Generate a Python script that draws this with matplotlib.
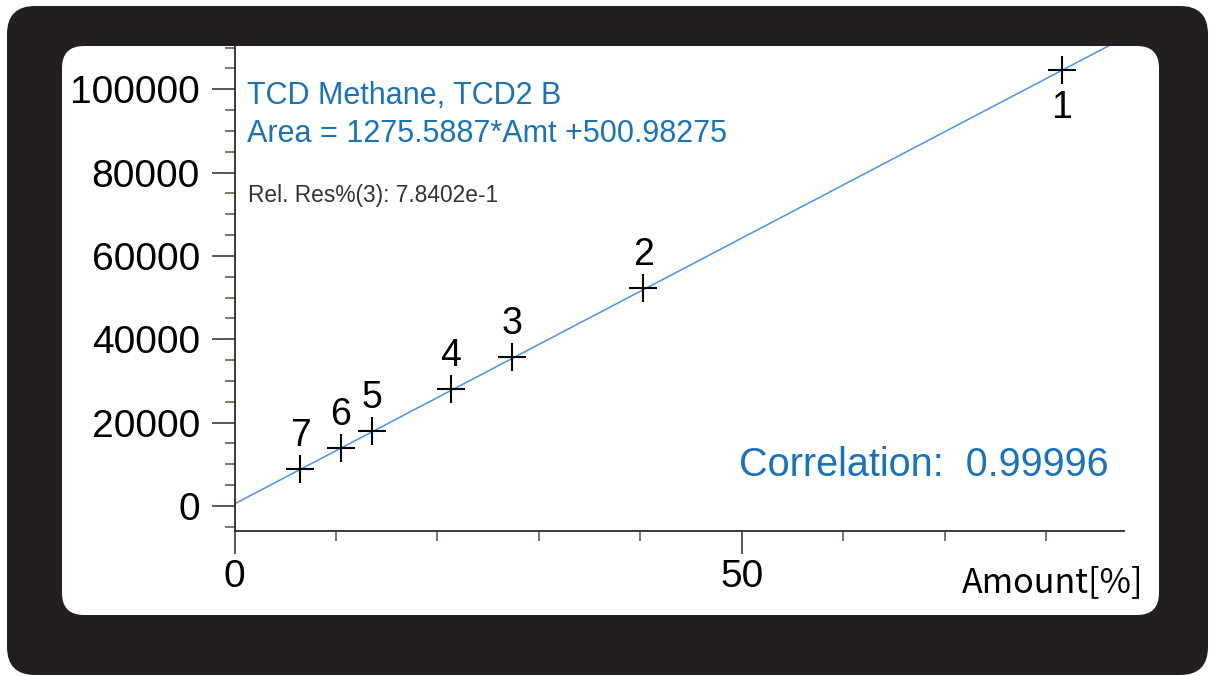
import numpy as np
import matplotlib
matplotlib.use("Agg")
import matplotlib.pyplot as plt
from matplotlib.patches import FancyBboxPatch
from matplotlib.ticker import FixedLocator

plt.rcParams['font.family'] = ['Liberation Sans', 'DejaVu Sans']

# calibration points
amount = [81.57, 40.30, 27.33, 21.31, 13.53, 10.47, 6.46]
area = [104630, 52240, 35690, 28010, 18070, 13850, 8810]
point_ids = ['1', '2', '3', '4', '5', '6', '7']

# fit given on the chart
slope = 1275.5887
intercept = 500.98275

y_ticks = [0, 20000, 40000, 60000, 80000, 100000]
y_labels = ['0', '20000', '40000', '60000', '80000', '100000']
x_ticks = [0, 50]
x_labels = ['0', '50']
x_minor = [10, 20, 30, 40, 60, 70, 80]

W, H = 1210, 676
fig = plt.figure(figsize=(W / 100, H / 100), dpi=100)
fig.patch.set_facecolor('white')

# frame: dark rounded border with white panel, in pixel coordinates
bg = fig.add_axes([0, 0, 1, 1], zorder=0)
bg.set_xlim(0, W)
bg.set_ylim(H, 0)
bg.axis('off')
bg.add_patch(FancyBboxPatch((7 + 28, 6 + 28), 1201 - 56, 669 - 56,
                            boxstyle='round,pad=28', fc='#231f20', ec='none'))
bg.add_patch(FancyBboxPatch((62 + 22, 46 + 22), 1097 - 44, 569 - 44,
                            boxstyle='round,pad=22', fc='white', ec='none'))

# main axes
left, right, top, bottom = 234.5, 1124, 46, 530.5
ax = fig.add_axes([left / W, 1 - bottom / H, (right - left) / W, (bottom - top) / H], zorder=1)
ax.patch.set_alpha(0)
ax.set_xlim(0, 87.69)
ax.set_ylim(-5880, 110390)

xs = np.array([0, 87.69])
ax.plot(xs, slope * xs + intercept, color='#4a94e6', lw=1.1, zorder=2)
ax.plot(amount, area, ls='none', marker='+', ms=20, mew=1.5, color='black', zorder=3)

for i, (x, y, t) in enumerate(zip(amount, area, point_ids)):
    if i == 0:
        ax.annotate(t, (x, y), xytext=(0, -34.6), textcoords='offset points',
                    ha='center', va='baseline', fontsize=27, color='black')
    else:
        ax.annotate(t, (x, y), xytext=(0, 16.5), textcoords='offset points',
                    ha='center', va='baseline', fontsize=27, color='black')

for s in ['top', 'right']:
    ax.spines[s].set_visible(False)
for s in ['left', 'bottom']:
    ax.spines[s].set_color('#2b2b22')
    ax.spines[s].set_linewidth(1.3)

ax.yaxis.set_major_locator(FixedLocator(y_ticks))
ax.set_yticklabels(y_labels)
ax.yaxis.set_minor_locator(FixedLocator(np.arange(-5000, 110001, 5000)))
ax.xaxis.set_major_locator(FixedLocator(x_ticks))
ax.set_xticklabels(x_labels)
ax.xaxis.set_minor_locator(FixedLocator(x_minor))

ax.tick_params(axis='both', which='major', length=16.5, width=1.1, color='#2b2b22',
               labelsize=28, labelcolor='black')
ax.tick_params(axis='both', which='minor', length=7.5, width=1.1, color='#55553f')
ax.tick_params(axis='y', which='major', pad=8.5)
ax.tick_params(axis='x', which='major', pad=4)

blue = '#1a72b8'
bg.text(247, 104, 'TCD Methane, TCD2 B', fontsize=22, color=blue, va='baseline', zorder=5)
bg.text(247, 142, 'Area = 1275.5887*Amt +500.98275', fontsize=22, color=blue, va='baseline', zorder=5)
bg.text(248, 202, 'Rel. Res%(3): 7.8402e-1', fontsize=16.4, color='#333333', va='baseline', zorder=5)
bg.text(739, 476, 'Correlation:  0.99996', fontsize=28.5, color=blue, va='baseline', zorder=5)
bg.text(1143, 592, 'Amount[%]', fontsize=24.5, color='black', ha='right', va='baseline',
        family=['Noto Sans CJK JP', 'DejaVu Sans'], zorder=5)

fig.savefig('out.png', dpi=100)
